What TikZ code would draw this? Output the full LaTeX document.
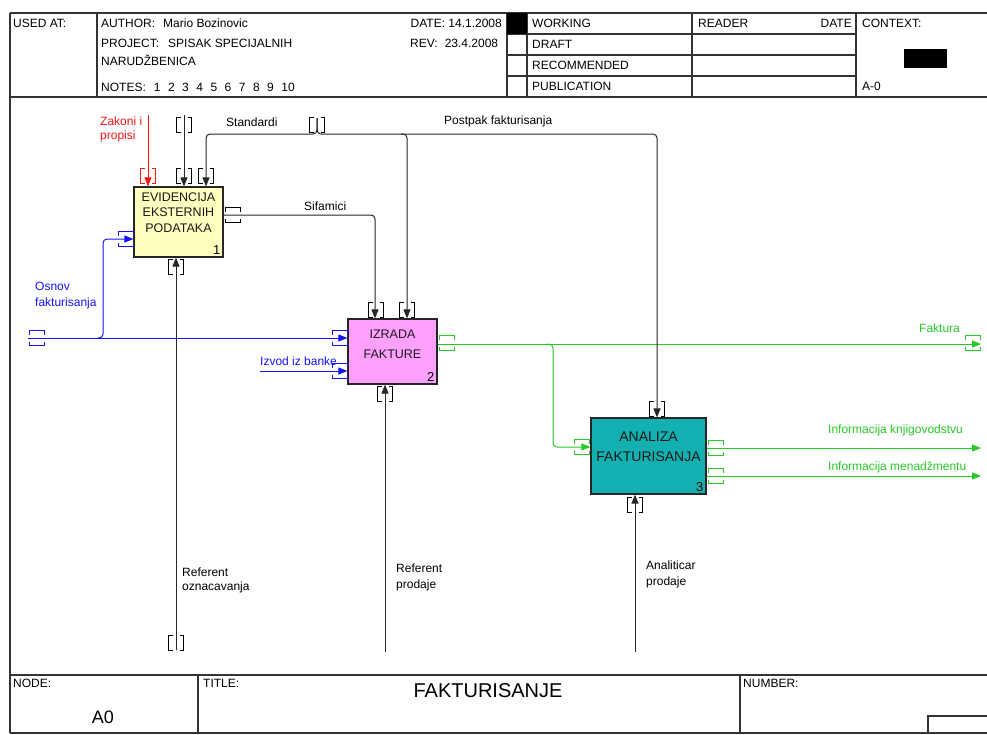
\documentclass[tikz,border=0pt]{standalone}
\usepackage{fontspec}
\setmainfont{Liberation Sans}
\usetikzlibrary{arrows.meta,positioning}
\definecolor{idefblue}{RGB}{20,20,250}
\definecolor{idefgreen}{RGB}{40,200,40}
\definecolor{idefred}{RGB}{250,20,20}
\definecolor{evidfill}{RGB}{255,255,192}
\definecolor{izradafill}{RGB}{255,160,255}
\definecolor{analizafill}{RGB}{18,176,176}
\tikzset{
  >={Triangle[length=9pt,width=7pt]},
  frame/.style={draw=black!80,line width=1.2pt},
  act/.style={draw=black!85,line width=1.2pt,fill=#1},
  acttext/.style={font=\fontsize{12.5}{#1}\selectfont,align=center,text=black!90},
  acttext/.default=15.5,
  actnum/.style={font=\fontsize{13}{13}\selectfont,anchor=south east,inner sep=3pt},
  flow/.style={->,line width=1pt,draw=#1,rounded corners=4pt},
  flow/.default=black!85,
  tag/.style={font=\fontsize{12}{15}\selectfont,align=left,inner sep=0pt,text=#1},
  tag/.default=black,
  hdr/.style={font=\fontsize{12}{14}\selectfont,inner sep=0pt},
  % ICOM brackets
  pics/vbrk/.style={code={
    \draw[#1,line width=1pt] (-3.5,-7.5) -- (-7.5,-7.5) -- (-7.5,7.5) -- (-3.5,7.5)
      (3.5,-7.5) -- (7.5,-7.5) -- (7.5,7.5) -- (3.5,7.5);
  }},
  pics/vbrk/.default=black,
  pics/hbrk/.style={code={
    \draw[#1,line width=1pt] (-7.5,-3.5) -- (-7.5,-7.5) -- (7.5,-7.5) -- (7.5,-3.5)
      (-7.5,3.5) -- (-7.5,7.5) -- (7.5,7.5) -- (7.5,3.5);
  }},
  pics/hbrk/.default=black,
}
\begin{document}
\begin{tikzpicture}[x=1pt,y=-1pt]
  \useasboundingbox (0,0) rectangle (987,734);
  \fill[white] (0,0) rectangle (987,734);

  % frame
  \draw[frame] (10,13) -- (987,13) (10,97) -- (987,97) (10,675) -- (987,675)
    (10,733) -- (987,733) (10,13) -- (10,733);
  \draw[frame] (97,13) -- (97,97) (507,13) -- (507,97) (527,13) -- (527,97)
    (692,13) -- (692,97) (856,13) -- (856,97);
  \draw[frame] (507,34) -- (856,34) (507,55) -- (856,55) (507,76) -- (856,76);
  \fill (507,13) rectangle (527,34);
  \fill (904,49) rectangle (947,68);
  \draw[frame] (198,675) -- (198,733) (740,675) -- (740,733) (987,716) -- (928,716) -- (928,733);

  % header
  \node[hdr,anchor=base west] (used) at (13,27) {USED AT:};
  \node[hdr,anchor=base west] (author) at (101,27) {AUTHOR:\hspace{8pt}Mario Bozinovic};
  \node[hdr,anchor=base west] (project) at (101,47) {PROJECT:\hspace{9pt}SPISAK SPECIJALNIH};
  \node[hdr,anchor=base west] (project2) at (101,65) {NARUDŽBENICA};
  \node[hdr,anchor=base west] (notes) at (101,91) {NOTES:\hspace{8pt}1\hspace{7.5pt}2\hspace{7.5pt}3\hspace{7.5pt}4\hspace{7.5pt}5\hspace{7.5pt}6\hspace{7.5pt}7\hspace{7.5pt}8\hspace{7.5pt}9\hspace{7.5pt}10};
  \node[hdr,anchor=base east] (date) at (502,27) {DATE: 14.1.2008};
  \node[hdr,anchor=base west] (rev) at (410,47) {REV:\hspace{7pt}23.4.2008};
  \foreach \t/\y in {WORKING/27,DRAFT/48,RECOMMENDED/69,PUBLICATION/90}
    \node[hdr,anchor=base west] (st\y) at (532,\y) {\t};
  \node[hdr,anchor=base west] (reader) at (698,27) {READER};
  \node[hdr,anchor=base east] (rdate) at (852,27) {DATE};
  \node[hdr,anchor=base west] (context) at (862,27) {CONTEXT:};
  \node[hdr,anchor=base west] (ctxnode) at (862,90) {A-0};

  % footer
  \node[hdr,anchor=base west] (nodelbl) at (13,687) {NODE:};
  \node[hdr,anchor=base west] (titlelbl) at (203,687) {TITLE:};
  \node[hdr,anchor=base west] (numlbl) at (743,687) {NUMBER:};
  \node[hdr,anchor=base,font=\fontsize{18}{18}\selectfont] (nodeval) at (103,723) {A0};
  \node[hdr,anchor=base,font=\fontsize{20}{20}\selectfont] (title) at (488,697) {FAKTURISANJE};

  % activities
  \node[act=evidfill,minimum width=89pt,minimum height=70pt] (evid) at (178.5,222) {};
  \node[act=izradafill,minimum width=89pt,minimum height=65pt] (izrada) at (392.5,351.5) {};
  \node[act=analizafill,minimum width=115pt,minimum height=76pt] (analiza) at (648.5,456) {};
  \node[acttext] (evid-t) at ([yshift=9.5pt]evid.center) {EVIDENCIJA\\EKSTERNIH\\PODATAKA};
  \node[acttext=19.5] (izrada-t) at ([yshift=7pt]izrada.center) {IZRADA\\FAKTURE};
  \node[acttext=20,font=\fontsize{14}{20}\selectfont] (analiza-t) at ([yshift=9pt]analiza.center) {ANALIZA\\FAKTURISANJA};
  \node[actnum] (evid-n) at (evid.south east) {1};
  \node[actnum] (izrada-n) at (izrada.south east) {2};
  \node[actnum] (analiza-n) at (analiza.south east) {3};

  % free ends and bends
  \coordinate (zakoni) at (148,115);
  \coordinate (ctrl) at (184,115);
  \coordinate (std) at (317,118);
  \coordinate (std-l) at (206,134);
  \coordinate (post-m) at (407,134);
  \coordinate (post-r) at (657,134);
  \coordinate (sif) at (375,215);
  \coordinate (osnov) at (28,338);
  \coordinate (osnov-b) at (103,338);
  \coordinate (osnov-up) at (103,239);
  \coordinate (izvod) at (260,371);
  \coordinate (faktura) at (981,344);
  \coordinate (fak-b) at (553,344);
  \coordinate (ana-in) at (553,447);
  \coordinate (knjig) at (981,448);
  \coordinate (menadz) at (981,476);
  \coordinate (ref1) at (176,650);
  \coordinate (ref2) at (385,652);
  \coordinate (anal) at (635,652);

  % inputs and outputs
  \draw[flow=idefblue] (osnov) -- (izrada.west |- osnov);
  \draw[flow=idefblue] ([xshift=-6pt]osnov-b) -- (osnov-b) -- (osnov-up) -- (evid.west |- osnov-up);
  \draw[flow=idefblue] (izvod) -- (izrada.west |- izvod);
  \draw[flow=idefgreen] (izrada.east |- faktura) -- (faktura);
  \draw[flow=idefgreen] ([xshift=-6pt]fak-b) -- (fak-b) -- (ana-in) -- (analiza.west |- ana-in);
  \draw[flow=idefgreen] (analiza.east |- knjig) -- (knjig);
  \draw[flow=idefgreen] (analiza.east |- menadz) -- (menadz);

  % controls
  \draw[flow=idefred] (zakoni) -- (zakoni |- evid.north);
  \draw[flow] (ctrl) -- (ctrl |- evid.north);
  \draw[flow] (std) -- (std |- std-l) -- (std-l) -- (std-l |- evid.north);
  \draw[flow] (std) -- (std |- post-r) -- (post-r) -- (post-r |- analiza.north);
  \draw[flow] ([xshift=-6pt]post-m) -- (post-m) -- (post-m |- izrada.north);
  \draw[flow] (evid.east |- sif) -- (sif) -- (sif |- izrada.north);

  % mechanisms
  \draw[flow] (ref1) -- (ref1 |- evid.south);
  \draw[flow] (ref2) -- (ref2 |- izrada.south);
  \draw[flow] (anal) -- (anal |- analiza.south);

  % brackets
  \pic at (148,176) {vbrk=idefred};
  \pic at (184,176) {vbrk};
  \pic at (206,176) {vbrk};
  \pic at (184,125) {vbrk};
  \pic at (317,125) {vbrk};
  \pic at (176,267) {vbrk};
  \pic at (176,643) {vbrk};
  \pic at (126,239) {hbrk=idefblue};
  \pic at (233,215) {hbrk};
  \pic at (376,310) {vbrk};
  \pic at (407,310) {vbrk};
  \pic at (385,394) {vbrk};
  \pic at (37,338) {hbrk=idefblue};
  \pic at (340,338) {hbrk=idefblue};
  \pic at (340,371) {hbrk=idefblue};
  \pic at (447,343) {hbrk=idefgreen};
  \pic at (973,343) {hbrk=idefgreen};
  \pic at (657,409) {vbrk};
  \pic at (582,447) {hbrk=idefgreen};
  \pic at (635,505) {vbrk};
  \pic at (716,448) {hbrk=idefgreen};
  \pic at (716,476) {hbrk=idefgreen};

  % labels
  \node[tag=idefred,anchor=base west,font=\fontsize{12}{14}\selectfont] (zakoni-l) at (100,139) {Zakoni i\\propisi};
  \node[tag,anchor=base west] (std-lbl) at (226,126) {Standardi};
  \node[tag,anchor=base west] (post-lbl) at (444,124) {Postpak fakturisanja};
  \node[tag,anchor=base west] (sif-lbl) at (304,210) {Sifamici};
  \node[tag=idefblue,anchor=base west,font=\fontsize{12}{16}\selectfont] (osnov-l) at (35,306) {Osnov\\fakturisanja};
  \node[tag=idefblue,anchor=base west] (izvod-l) at (260,365) {Izvod iz banke};
  \node[tag=idefgreen,anchor=base west] (faktura-l) at (919,332) {Faktura};
  \node[tag=idefgreen,anchor=base west] (knjig-l) at (828,433) {Informacija knjigovodstvu};
  \node[tag=idefgreen,anchor=base west] (menadz-l) at (828,470) {Informacija menadžmentu};
  \node[tag,anchor=base west,font=\fontsize{12}{14}\selectfont] (ref1-l) at (182,590) {Referent\\oznacavanja};
  \node[tag,anchor=base west,font=\fontsize{12}{16}\selectfont] (ref2-l) at (396,588) {Referent\\prodaje};
  \node[tag,anchor=base west,font=\fontsize{12}{16}\selectfont] (anal-l) at (646,585) {Analiticar\\prodaje};
\end{tikzpicture}
\end{document}
